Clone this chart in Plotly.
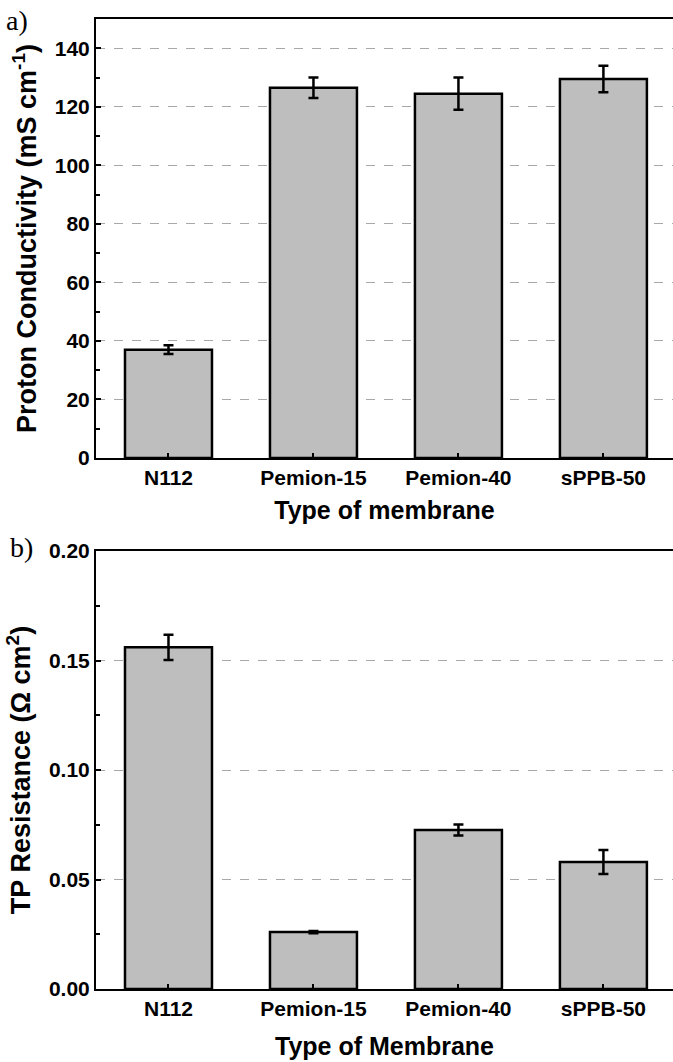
import plotly.graph_objects as go

# ---- data ----
membranes = ["N112", "Pemion-15", "Pemion-40", "sPPB-50"]
conductivity = [37.0, 126.5, 124.5, 129.5]          # mS cm-1
conductivity_err = [1.5, 3.5, 5.5, 4.5]
resistance = [0.156, 0.026, 0.0726, 0.058]           # Ohm cm2
resistance_err = [0.0058, 0.0005, 0.0025, 0.0055]

W, H = 673, 1062
ML, MR, MT, MB = 96, 0, 19, 73
plot_h = H - MT - MB
top_dom = [(989 - 458) / plot_h, 1.0]
bot_dom = [0.0, (989 - 551) / plot_h]

BAR_FILL = "#BEBEBE"
FONT = "Liberation Sans, Arial, sans-serif"
GRID = "#A8A8A8"

fig = go.Figure()

fig.add_trace(go.Bar(
    x=membranes, y=conductivity, xaxis="x", yaxis="y", width=0.6,
    marker=dict(color=BAR_FILL, line=dict(color="black", width=2.5)),
    error_y=dict(type="data", array=conductivity_err, color="black",
                 thickness=2.5, width=5),
    showlegend=False, hoverinfo="skip",
))
fig.add_trace(go.Bar(
    x=membranes, y=resistance, xaxis="x2", yaxis="y2", width=0.6,
    marker=dict(color=BAR_FILL, line=dict(color="black", width=2.5)),
    error_y=dict(type="data", array=resistance_err, color="black",
                 thickness=2.5, width=5),
    showlegend=False, hoverinfo="skip",
))

tick_font = dict(family=FONT, size=21, color="black", weight="bold")
xtitle_font = dict(family=FONT, size=25, color="black", weight="bold")
ytitle_font = dict(family=FONT, size=27, color="black", weight="bold")

xcommon = dict(
    range=[-0.5, 3.48], showline=True, linecolor="black", linewidth=2,
    mirror=True, ticks="inside", ticklen=5, tickwidth=1.5, tickcolor="black",
    tickfont=tick_font, showgrid=False, zeroline=False, automargin=False,
    title_font=xtitle_font,
)
ycommon = dict(
    showline=True, linecolor="black", linewidth=2, ticks="inside",
    ticklen=5, tickwidth=1.5, tickcolor="black", tickfont=tick_font,
    showgrid=True, gridcolor=GRID, griddash="dash", gridwidth=1,
    zeroline=False, automargin=False, title_font=ytitle_font,
)

fig.update_layout(
    width=W, height=H,
    margin=dict(l=ML, r=MR, t=MT, b=MB),
    plot_bgcolor="white", paper_bgcolor="white",
    xaxis=dict(**xcommon, domain=[0, 1], anchor="y",
               title=dict(text="Type of membrane", standoff=13)),
    yaxis=dict(**ycommon, domain=top_dom, anchor="x", range=[0, 150],
               dtick=20, tick0=0,
               minor=dict(ticks="inside", dtick=10, ticklen=4,
                          tickcolor="black", tickwidth=1.5, showgrid=False),
               title=dict(text="Proton Conductivity (mS cm<sup>-1</sup>)",
                          standoff=10)),
    xaxis2=dict(**xcommon, domain=[0, 1], anchor="y2",
                title=dict(text="Type of Membrane", standoff=18)),
    yaxis2=dict(**ycommon, domain=bot_dom, anchor="x2", range=[0, 0.2],
                dtick=0.05, tick0=0, tickformat=".2f",
                minor=dict(ticks="inside", dtick=0.025, ticklen=4,
                           tickcolor="black", tickwidth=1.5, showgrid=False),
                title=dict(text="TP Resistance (Ω cm<sup>2</sup>)",
                           standoff=10)),
)

# panel labels placed at pixel positions -> paper coordinates
def px_to_paper(xp, yp):
    return (xp - ML) / (W - ML - MR), (H - MB - yp) / plot_h

for txt, (pxl, pyl) in [("a)", (4, 3)), ("b)", (8, 530))]:
    xx, yy = px_to_paper(pxl, pyl)
    fig.add_annotation(text=txt, x=xx, y=yy, xref="paper", yref="paper",
                       xanchor="left", yanchor="top", showarrow=False,
                       font=dict(family="Liberation Serif, Times New Roman, serif",
                                 size=28, color="black"))

fig.write_html("out.html", config={"displayModeBar": False},
               post_script="document.body.style.margin='0';")
